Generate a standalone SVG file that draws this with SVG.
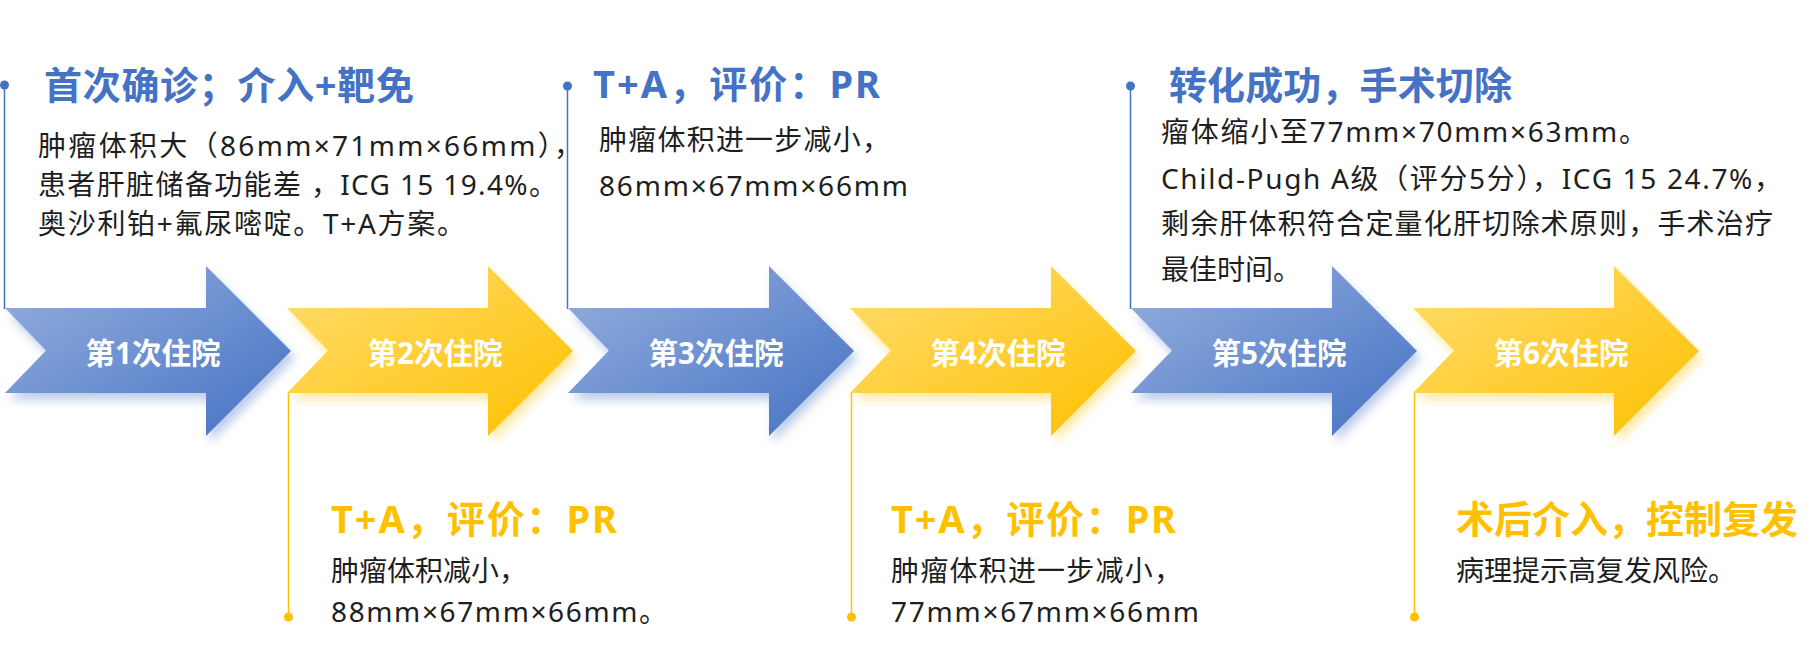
<svg xmlns="http://www.w3.org/2000/svg" width="1819" height="667" viewBox="0 0 1819 667">
<defs>
<linearGradient id="gBlue" x1="0" y1="0" x2="1" y2="1">
<stop offset="0" stop-color="#97B0DE"/>
<stop offset="1" stop-color="#4472C4"/>
</linearGradient>
<linearGradient id="gYellow" x1="0" y1="0" x2="1" y2="1">
<stop offset="0" stop-color="#FFDD70"/>
<stop offset="1" stop-color="#FFC000"/>
</linearGradient>
<filter id="shBlue" x="-10%" y="-10%" width="130%" height="140%">
<feDropShadow dx="4" dy="7" stdDeviation="5" flood-color="#4472C4" flood-opacity="0.35"/>
</filter>
<filter id="shYellow" x="-10%" y="-10%" width="130%" height="140%">
<feDropShadow dx="4" dy="7" stdDeviation="5" flood-color="#FFC000" flood-opacity="0.35"/>
</filter>
</defs>
<style>
.ab{fill:url(#gBlue);filter:url(#shBlue)}
.ay{fill:url(#gYellow);filter:url(#shYellow)}
.lab{font-family:'Noto Sans','Noto Sans CJK SC',sans-serif;font-weight:700;font-size:29.5px;fill:#fff;text-anchor:middle}
.tb{font-family:'Noto Sans','Noto Sans CJK SC',sans-serif;font-weight:700;font-size:38px;fill:#4472C4}
.ty{font-family:'Noto Sans','Noto Sans CJK SC',sans-serif;font-weight:700;font-size:38px;fill:#FFC000}
.body{font-family:'Noto Sans','Noto Sans CJK SC',sans-serif;font-size:28px;fill:#1E1E1E}
.lb{stroke:#4472C4;stroke-width:1.5;fill:none}
.ly{stroke:#FFC000;stroke-width:1.5;fill:none}
.db{fill:#4472C4}
.dy{fill:#FFC000}
</style>

<g id="connectors">
<line class="lb" x1="4.5" y1="85" x2="4.5" y2="309"/>
<circle class="db" cx="4.5" cy="85" r="4.5"/>
<line class="lb" x1="567.5" y1="86" x2="567.5" y2="309"/>
<circle class="db" cx="567.5" cy="86" r="4.5"/>
<line class="lb" x1="1130.5" y1="86" x2="1130.5" y2="309"/>
<circle class="db" cx="1130.5" cy="86" r="4.5"/>
<line class="ly" x1="288.5" y1="393" x2="288.5" y2="617"/>
<circle class="dy" cx="288.5" cy="617" r="4.5"/>
<line class="ly" x1="851.5" y1="393" x2="851.5" y2="617"/>
<circle class="dy" cx="851.5" cy="617" r="4.5"/>
<line class="ly" x1="1414.5" y1="393" x2="1414.5" y2="617"/>
<circle class="dy" cx="1414.5" cy="617" r="4.5"/>
</g>

<g id="stay1">
<path class="ab" transform="translate(5,0)" d="M0,308 L201,308 L201,266 L286,351 L201,436 L201,393 L0,393 L41,350.5 Z"/>
<text class="lab" x="153" y="364">第1次住院</text>
</g>
<g id="stay2">
<path class="ay" transform="translate(287,0)" d="M0,308 L201,308 L201,266 L286,351 L201,436 L201,393 L0,393 L41,350.5 Z"/>
<text class="lab" x="435" y="364">第2次住院</text>
</g>
<g id="stay3">
<path class="ab" transform="translate(568,0)" d="M0,308 L201,308 L201,266 L286,351 L201,436 L201,393 L0,393 L41,350.5 Z"/>
<text class="lab" x="716" y="364">第3次住院</text>
</g>
<g id="stay4">
<path class="ay" transform="translate(850,0)" d="M0,308 L201,308 L201,266 L286,351 L201,436 L201,393 L0,393 L41,350.5 Z"/>
<text class="lab" x="998" y="364">第4次住院</text>
</g>
<g id="stay5">
<path class="ab" transform="translate(1131,0)" d="M0,308 L201,308 L201,266 L286,351 L201,436 L201,393 L0,393 L41,350.5 Z"/>
<text class="lab" x="1279" y="364">第5次住院</text>
</g>
<g id="stay6">
<path class="ay" transform="translate(1413,0)" d="M0,308 L201,308 L201,266 L286,351 L201,436 L201,393 L0,393 L41,350.5 Z"/>
<text class="lab" x="1561" y="364">第6次住院</text>
</g>

<g id="note1">
<text class="tb" x="44" y="99" textLength="370" lengthAdjust="spacing">首次确诊；介入+靶免</text>
<text class="body" x="38" y="156" textLength="544" lengthAdjust="spacing">肿瘤体积大（86mm×71mm×66mm），</text>
<text class="body" x="38" y="195" textLength="519" lengthAdjust="spacing">患者肝脏储备功能差 ，ICG 15 19.4%。</text>
<text class="body" x="38" y="234" textLength="427" lengthAdjust="spacing">奥沙利铂+氟尿嘧啶。T+A方案。</text>
</g>
<g id="note2">
<text class="ty" x="331" y="533" textLength="286" lengthAdjust="spacing">T+A，评价：PR</text>
<text class="body" x="331" y="581">肿瘤体积减小，</text>
<text class="body" x="331" y="622" textLength="336" lengthAdjust="spacing">88mm×67mm×66mm。</text>
</g>
<g id="note3">
<text class="tb" x="593" y="98" textLength="287" lengthAdjust="spacing">T+A，评价：PR</text>
<text class="body" x="599" y="150" textLength="291" lengthAdjust="spacing">肿瘤体积进一步减小，</text>
<text class="body" x="599" y="196" textLength="309" lengthAdjust="spacing">86mm×67mm×66mm</text>
</g>
<g id="note4">
<text class="ty" x="891" y="533" textLength="285" lengthAdjust="spacing">T+A，评价：PR</text>
<text class="body" x="891" y="581" textLength="291" lengthAdjust="spacing">肿瘤体积进一步减小，</text>
<text class="body" x="891" y="622" textLength="308" lengthAdjust="spacing">77mm×67mm×66mm</text>
</g>
<g id="note5">
<text class="tb" x="1169" y="99" textLength="343" lengthAdjust="spacing">转化成功，手术切除</text>
<text class="body" x="1161" y="142" textLength="486" lengthAdjust="spacing">瘤体缩小至77mm×70mm×63mm。</text>
<text class="body" x="1161" y="189" textLength="621" lengthAdjust="spacing">Child-Pugh A级（评分5分），ICG 15 24.7%，</text>
<text class="body" x="1161" y="234" textLength="612" lengthAdjust="spacing">剩余肝体积符合定量化肝切除术原则，手术治疗</text>
<text class="body" x="1161" y="280">最佳时间。</text>
</g>
<g id="note6">
<text class="ty" x="1456" y="533" textLength="342" lengthAdjust="spacing">术后介入，控制复发</text>
<text class="body" x="1456" y="581">病理提示高复发风险。</text>
</g>
</svg>
